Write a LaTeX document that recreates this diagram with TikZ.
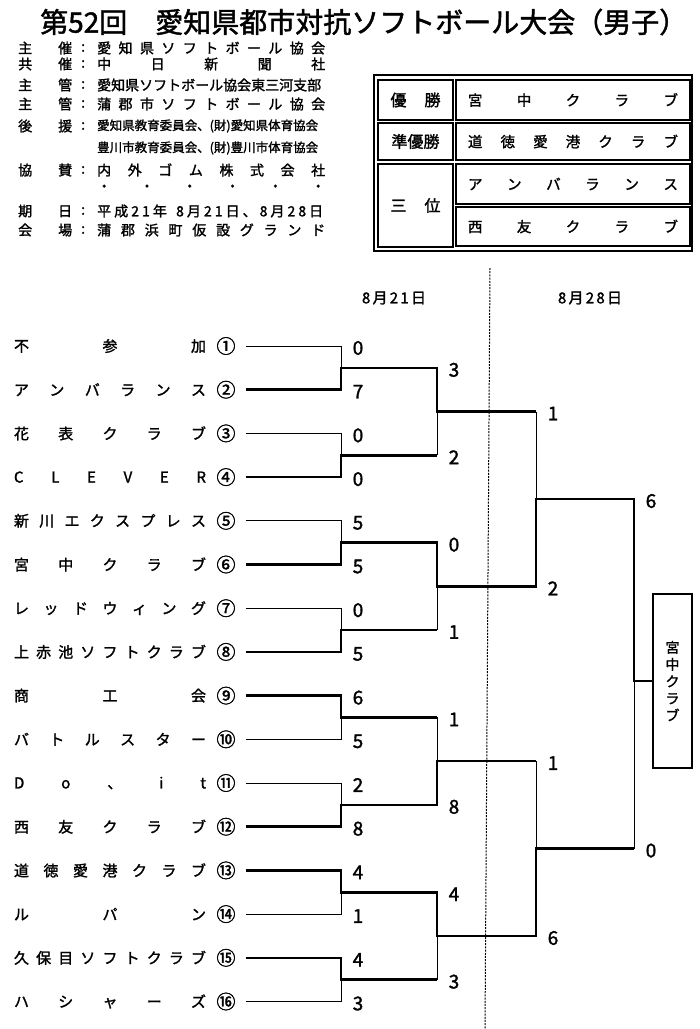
\documentclass[tikz,border=0pt]{standalone}
\usepackage{fontspec}
\setmainfont{Noto Sans CJK JP}[FakeBold=1.6]
\usetikzlibrary{positioning,calc}

\newcommand{\fsz}[1]{\fontsize{#1}{#1}\selectfont}
\makeatletter
\newcommand{\spreadtext}[2]{\makebox[#1][s]{\@tfor\spread@c:=#2\do{\spread@c\hfill}\unskip}}
\makeatother

\begin{document}
\begin{tikzpicture}[x=1pt,y=-1pt,node distance=43.7pt,
                    num node/.style={inner sep=0pt,font=\fsz{19}},
                    name node/.style={inner sep=0pt,font=\fsz{15},node distance=116pt},
                    score node/.style={inner sep=0pt,font=\fsz{19},node distance=17pt,yshift=-2pt},
                    head node/.style={anchor=west,inner sep=0pt,font=\fsz{14}},
                    cell node/.style={draw,line width=1.8pt,inner sep=0pt},
                    day node/.style={inner sep=0pt,font=\fsz{15}},
                    team line/.style={shorten <=10pt},
                    lose line/.style={line width=1pt},
                    win line/.style={line width=2.6pt}]

  \useasboundingbox (0,0) rectangle (700,1029);

  % title and header
  \node[anchor=west,inner sep=0pt,font=\fsz{28}] (title) at (40,22) {第52回　愛知県都市対抗ソフトボール大会（男子）};

  \node[head node] (lab1) at (18,48) {\spreadtext{54pt}{主催}};
  \node[head node] (col1) at (81,48) {:};
  \node[head node] (val1) at (97,48) {\spreadtext{228pt}{愛知県ソフトボール協会}};
  \node[head node] (lab2) at (18,64) {\spreadtext{54pt}{共催}};
  \node[head node] (col2) at (81,64) {:};
  \node[head node] (val2) at (97,64) {\spreadtext{228pt}{中日新聞社}};
  \node[head node] (lab3) at (18,85) {\spreadtext{54pt}{主管}};
  \node[head node] (col3) at (81,85) {:};
  \node[head node] (val3) at (97,85) {愛知県ソフトボール協会東三河支部};
  \node[head node] (lab4) at (18,104) {\spreadtext{54pt}{主管}};
  \node[head node] (col4) at (81,104) {:};
  \node[head node] (val4) at (97,104) {\spreadtext{228pt}{蒲郡市ソフトボール協会}};
  \node[head node] (lab5) at (18,126) {\spreadtext{54pt}{後援}};
  \node[head node] (col5) at (81,126) {:};
  \node[head node,font=\fsz{12.5}] (val5) at (97,126) {愛知県教育委員会、(財)愛知県体育協会};
  \node[head node,font=\fsz{12.5}] (val6) at (97,148) {豊川市教育委員会、(財)豊川市体育協会};
  \node[head node] (lab7) at (18,170) {\spreadtext{54pt}{協賛}};
  \node[head node] (col7) at (81,170) {:};
  \node[head node] (val7) at (97,170) {\spreadtext{228pt}{内外ゴム株式会社}};
  \node[head node] (val8) at (97,188) {\spreadtext{228pt}{・・・・・・}};
  \node[head node] (lab9) at (18,211) {\spreadtext{54pt}{期日}};
  \node[head node] (col9) at (81,211) {:};
  \node[head node] (val9) at (97,211) {\spreadtext{226pt}{平成21年~8月21日、8月28日}};
  \node[head node] (lab10) at (18,230) {\spreadtext{54pt}{会場}};
  \node[head node] (col10) at (81,230) {:};
  \node[head node] (val10) at (97,230) {\spreadtext{228pt}{蒲郡浜町仮設グランド}};

  % results table
  \draw[line width=1.2pt] (374,75) rectangle (692,251);
  \node[cell node,minimum width=75pt,minimum height=40pt,font=\fsz{16}] (k1) at (415.5,100) {\spreadtext{50pt}{優勝}};
  \node[cell node,minimum width=75pt,minimum height=37pt,font=\fsz{16}] (k2) at (415.5,141.5) {準優勝};
  \node[cell node,minimum width=75pt,minimum height=83pt,font=\fsz{16}] (k3) at (415.5,205.5) {\spreadtext{50pt}{三位}};
  \node[cell node,minimum width=234pt,minimum height=40pt,font=\fsz{14.5}] (w1) at (573,100) {\spreadtext{210pt}{宮中クラブ}};
  \node[cell node,minimum width=234pt,minimum height=37pt,font=\fsz{14.5}] (w2) at (573,141.5) {\spreadtext{210pt}{道徳愛港クラブ}};
  \node[cell node,minimum width=234pt,minimum height=40pt,font=\fsz{14.5}] (w3) at (573,184) {\spreadtext{210pt}{アンバランス}};
  \node[cell node,minimum width=234pt,minimum height=39pt,font=\fsz{14.5}] (w4) at (573,226.5) {\spreadtext{210pt}{西友クラブ}};

  % dates
  \node[day node] (day1) at (394,298) {\spreadtext{64pt}{8月21日}};
  \node[day node] (day2) at (590,298) {\spreadtext{64pt}{8月28日}};
  \coordinate (div1) at (490,268);
  \coordinate (div2) at (485,1029);
  \draw[line width=1pt,dash pattern=on 2pt off 1.2pt] (div1) -- (div2);

  % teams
  \node[num node] (1) at (226,346) {①};
  \node[num node] (2) [below of=1] {②};
  \node[num node] (3) [below of=2] {③};
  \node[num node] (4) [below of=3] {④};
  \node[num node] (5) [below of=4] {⑤};
  \node[num node] (6) [below of=5] {⑥};
  \node[num node] (7) [below of=6] {⑦};
  \node[num node] (8) [below of=7] {⑧};
  \node[num node] (9) [below of=8] {⑨};
  \node[num node] (10) [below of=9] {⑩};
  \node[num node] (11) [below of=10] {⑪};
  \node[num node] (12) [below of=11] {⑫};
  \node[num node] (13) [below of=12] {⑬};
  \node[num node] (14) [below of=13] {⑭};
  \node[num node] (15) [below of=14] {⑮};
  \node[num node] (16) [below of=15] {⑯};

  \node[name node] (t1) [left of=1] {\spreadtext{192pt}{不参加}};
  \node[name node] (t2) [left of=2] {\spreadtext{192pt}{アンバランス}};
  \node[name node] (t3) [left of=3] {\spreadtext{192pt}{花表クラブ}};
  \node[name node] (t4) [left of=4] {\spreadtext{192pt}{CLEVER}};
  \node[name node] (t5) [left of=5] {\spreadtext{192pt}{新川エクスプレス}};
  \node[name node] (t6) [left of=6] {\spreadtext{192pt}{宮中クラブ}};
  \node[name node] (t7) [left of=7] {\spreadtext{192pt}{レッドウィング}};
  \node[name node] (t8) [left of=8] {\spreadtext{192pt}{上赤池ソフトクラブ}};
  \node[name node] (t9) [left of=9] {\spreadtext{192pt}{商工会}};
  \node[name node] (t10) [left of=10] {\spreadtext{192pt}{バトルスター}};
  \node[name node] (t11) [left of=11] {\spreadtext{192pt}{Do、it}};
  \node[name node] (t12) [left of=12] {\spreadtext{192pt}{西友クラブ}};
  \node[name node] (t13) [left of=13] {\spreadtext{192pt}{道徳愛港クラブ}};
  \node[name node] (t14) [left of=14] {\spreadtext{192pt}{ルパン}};
  \node[name node] (t15) [left of=15] {\spreadtext{192pt}{久保目ソフトクラブ}};
  \node[name node] (t16) [left of=16] {\spreadtext{192pt}{ハシャーズ}};

  \node[draw,line width=2pt,minimum width=39pt,minimum height=174pt,inner sep=0pt,
        align=center,font=\fontsize{14}{17}\selectfont] (champ) at (672.5,681) {宮\\中\\ク\\ラ\\ブ};

  % bracket points
  \coordinate (b1) at ($(1)+(115,0)$);
  \coordinate (b2) at ($(2)+(115,0)$);
  \coordinate (b3) at ($(3)+(115,0)$);
  \coordinate (b4) at ($(4)+(115,0)$);
  \coordinate (b5) at ($(5)+(115,0)$);
  \coordinate (b6) at ($(6)+(115,0)$);
  \coordinate (b7) at ($(7)+(115,0)$);
  \coordinate (b8) at ($(8)+(115,0)$);
  \coordinate (b9) at ($(9)+(115,0)$);
  \coordinate (b10) at ($(10)+(115,0)$);
  \coordinate (b11) at ($(11)+(115,0)$);
  \coordinate (b12) at ($(12)+(115,0)$);
  \coordinate (b13) at ($(13)+(115,0)$);
  \coordinate (b14) at ($(14)+(115,0)$);
  \coordinate (b15) at ($(15)+(115,0)$);
  \coordinate (b16) at ($(16)+(115,0)$);

  \coordinate (m1) at ($(b1)!.5!(b2)$);   \coordinate (r1) at ($(m1)+(96,0)$);
  \coordinate (m2) at ($(b3)!.5!(b4)$);   \coordinate (r2) at ($(m2)+(96,0)$);
  \coordinate (m3) at ($(b5)!.5!(b6)$);   \coordinate (r3) at ($(m3)+(96,0)$);
  \coordinate (m4) at ($(b7)!.5!(b8)$);   \coordinate (r4) at ($(m4)+(96,0)$);
  \coordinate (m5) at ($(b9)!.5!(b10)$);  \coordinate (r5) at ($(m5)+(96,0)$);
  \coordinate (m6) at ($(b11)!.5!(b12)$); \coordinate (r6) at ($(m6)+(96,0)$);
  \coordinate (m7) at ($(b13)!.5!(b14)$); \coordinate (r7) at ($(m7)+(96,0)$);
  \coordinate (m8) at ($(b15)!.5!(b16)$); \coordinate (r8) at ($(m8)+(96,0)$);

  \coordinate (q1) at ($(r1)!.5!(r2)$); \coordinate (p1) at ($(q1)+(99,0)$);
  \coordinate (q2) at ($(r3)!.5!(r4)$); \coordinate (p2) at ($(q2)+(99,0)$);
  \coordinate (q3) at ($(r5)!.5!(r6)$); \coordinate (p3) at ($(q3)+(99,0)$);
  \coordinate (q4) at ($(r7)!.5!(r8)$); \coordinate (p4) at ($(q4)+(99,0)$);

  \coordinate (u1) at ($(p1)!.5!(p2)$); \coordinate (v1) at ($(u1)+(98,0)$);
  \coordinate (u2) at ($(p3)!.5!(p4)$); \coordinate (v2) at ($(u2)+(98,0)$);
  \coordinate (w) at (v1 |- champ.west);

  % losing sides
  \draw[lose line,team line] (1.east) -- (b1) -- (m1);
  \draw[lose line,team line] (3.east) -- (b3) -- (m2);
  \draw[lose line,team line] (5.east) -- (b5) -- (m3);
  \draw[lose line,team line] (7.east) -- (b7) -- (m4);
  \draw[lose line,team line] (10.east) -- (b10) -- (m5);
  \draw[lose line,team line] (11.east) -- (b11) -- (m6);
  \draw[lose line,team line] (14.east) -- (b14) -- (m7);
  \draw[lose line,team line] (16.east) -- (b16) -- (m8);
  \draw[lose line] (r2) -- (q1);
  \draw[lose line] (r4) -- (q2);
  \draw[lose line] (r5) -- (q3);
  \draw[lose line] (r8) -- (q4);
  \draw[lose line] (p1) -- (u1);
  \draw[lose line] (p3) -- (u2);
  \draw[lose line] (v2) -- (w);

  % winning sides
  \draw[win line,team line] (2.east) -- (b2) -- (m1) -- (r1) -- (q1) -- (p1);
  \draw[win line,team line] (4.east) -- (b4) -- (m2) -- (r2);
  \draw[win line,team line] (6.east) -- (b6) -- (m3) -- (r3) -- (q2) -- (p2) -- (u1) -- (v1) -- (w) -- (champ.west);
  \draw[win line,team line] (8.east) -- (b8) -- (m4) -- (r4);
  \draw[win line,team line] (9.east) -- (b9) -- (m5) -- (r5);
  \draw[win line,team line] (12.east) -- (b12) -- (m6) -- (r6) -- (q3) -- (p3);
  \draw[win line,team line] (13.east) -- (b13) -- (m7) -- (r7) -- (q4) -- (p4) -- (u2) -- (v2);
  \draw[win line,team line] (15.east) -- (b15) -- (m8) -- (r8);

  % scores
  \node[score node] (sb1) [right of=b1] {0};
  \node[score node] (sb2) [right of=b2] {7};
  \node[score node] (sb3) [right of=b3] {0};
  \node[score node] (sb4) [right of=b4] {0};
  \node[score node] (sb5) [right of=b5] {5};
  \node[score node] (sb6) [right of=b6] {5};
  \node[score node] (sb7) [right of=b7] {0};
  \node[score node] (sb8) [right of=b8] {5};
  \node[score node] (sb9) [right of=b9] {6};
  \node[score node] (sb10) [right of=b10] {5};
  \node[score node] (sb11) [right of=b11] {2};
  \node[score node] (sb12) [right of=b12] {8};
  \node[score node] (sb13) [right of=b13] {4};
  \node[score node] (sb14) [right of=b14] {1};
  \node[score node] (sb15) [right of=b15] {4};
  \node[score node] (sb16) [right of=b16] {3};

  \node[score node] (sr1) [right of=r1] {3};
  \node[score node] (sr2) [right of=r2] {2};
  \node[score node] (sr3) [right of=r3] {0};
  \node[score node] (sr4) [right of=r4] {1};
  \node[score node] (sr5) [right of=r5] {1};
  \node[score node] (sr6) [right of=r6] {8};
  \node[score node] (sr7) [right of=r7] {4};
  \node[score node] (sr8) [right of=r8] {3};

  \node[score node] (sp1) [right of=p1] {1};
  \node[score node] (sp2) [right of=p2] {2};
  \node[score node] (sp3) [right of=p3] {1};
  \node[score node] (sp4) [right of=p4] {6};

  \node[score node] (sv1) [right of=v1] {6};
  \node[score node] (sv2) [right of=v2] {0};

\end{tikzpicture}
\end{document}
